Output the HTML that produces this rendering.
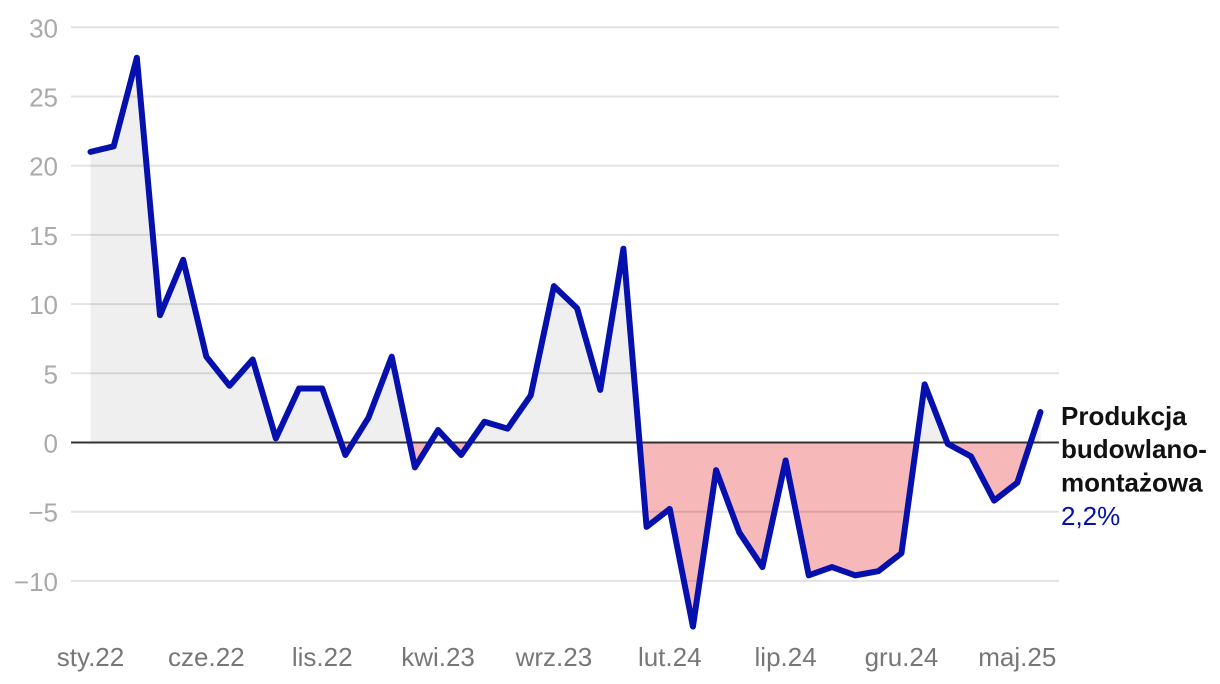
<!DOCTYPE html>
<html><head><meta charset="utf-8"><style>
html,body{margin:0;padding:0;background:#fff;}
svg{display:block;}
</style></head><body>
<svg width="1220" height="684" viewBox="0 0 1220 684" xmlns="http://www.w3.org/2000/svg">
<defs>
<clipPath id="above"><rect x="0" y="0" width="1220" height="442.5"/></clipPath>
<clipPath id="below"><rect x="0" y="442.5" width="1220" height="242"/></clipPath>
</defs>
<g id="area">
<path clip-path="url(#above)" fill="#efefef" d="M90.5 442.5 L90.5 151.86 L113.67 146.32 L136.84 57.75 L160.01 315.17 L183.18 259.81 L206.35 356.69 L229.52 385.76 L252.69 359.46 L275.86 438.35 L299.03 388.52 L322.2 388.52 L345.37 454.96 L368.54 417.59 L391.71 356.69 L414.88 467.41 L438.05 430.04 L461.22 454.96 L484.39 421.74 L507.56 428.66 L530.73 395.44 L553.9 286.11 L577.07 308.25 L600.24 389.91 L623.41 248.74 L646.58 526.92 L669.75 508.93 L692.92 626.57 L716.09 470.18 L739.26 532.46 L762.43 567.06 L785.6 460.49 L808.77 575.36 L831.94 567.06 L855.11 575.36 L878.28 571.21 L901.45 553.22 L924.62 384.37 L947.79 443.88 L970.96 456.34 L994.13 500.63 L1017.3 482.64 L1040.47 412.05 L1040.47 442.5 Z"/>
<path clip-path="url(#below)" fill="#f7b8ba" d="M90.5 442.5 L90.5 151.86 L113.67 146.32 L136.84 57.75 L160.01 315.17 L183.18 259.81 L206.35 356.69 L229.52 385.76 L252.69 359.46 L275.86 438.35 L299.03 388.52 L322.2 388.52 L345.37 454.96 L368.54 417.59 L391.71 356.69 L414.88 467.41 L438.05 430.04 L461.22 454.96 L484.39 421.74 L507.56 428.66 L530.73 395.44 L553.9 286.11 L577.07 308.25 L600.24 389.91 L623.41 248.74 L646.58 526.92 L669.75 508.93 L692.92 626.57 L716.09 470.18 L739.26 532.46 L762.43 567.06 L785.6 460.49 L808.77 575.36 L831.94 567.06 L855.11 575.36 L878.28 571.21 L901.45 553.22 L924.62 384.37 L947.79 443.88 L970.96 456.34 L994.13 500.63 L1017.3 482.64 L1040.47 412.05 L1040.47 442.5 Z"/>
</g>
<g stroke="rgba(0,0,0,0.11)" stroke-width="2">
<line x1="71" x2="1059" y1="27.3" y2="27.3"/>
<line x1="71" x2="1059" y1="96.5" y2="96.5"/>
<line x1="71" x2="1059" y1="165.7" y2="165.7"/>
<line x1="71" x2="1059" y1="234.9" y2="234.9"/>
<line x1="71" x2="1059" y1="304.1" y2="304.1"/>
<line x1="71" x2="1059" y1="373.3" y2="373.3"/>
<line x1="71" x2="1059" y1="511.7" y2="511.7"/>
<line x1="71" x2="1059" y1="580.9" y2="580.9"/>
</g>
<line x1="71" x2="1059" y1="442.5" y2="442.5" stroke="#333" stroke-width="2"/>
<g font-family="'Liberation Sans', sans-serif" font-size="26" fill="#aaaaaa" text-anchor="end">
<text x="58" y="37.3">30</text>
<text x="58" y="106.5">25</text>
<text x="58" y="175.7">20</text>
<text x="58" y="244.9">15</text>
<text x="58" y="314.1">10</text>
<text x="58" y="383.3">5</text>
<text x="58" y="452.5">0</text>
<text x="58" y="521.7">−5</text>
<text x="58" y="590.9">−10</text>
</g>
<g font-family="'Liberation Sans', sans-serif" font-size="26" fill="#777777" text-anchor="middle">
<text x="90.5" y="666">sty.22</text>
<text x="206.35" y="666">cze.22</text>
<text x="322.2" y="666">lis.22</text>
<text x="438.05" y="666">kwi.23</text>
<text x="553.9" y="666">wrz.23</text>
<text x="669.75" y="666">lut.24</text>
<text x="785.6" y="666">lip.24</text>
<text x="901.45" y="666">gru.24</text>
<text x="1017.3" y="666">maj.25</text>
</g>
<path fill="none" stroke="#0510ad" stroke-width="6" stroke-linejoin="round" stroke-linecap="round" d="M90.5 151.86 L113.67 146.32 L136.84 57.75 L160.01 315.17 L183.18 259.81 L206.35 356.69 L229.52 385.76 L252.69 359.46 L275.86 438.35 L299.03 388.52 L322.2 388.52 L345.37 454.96 L368.54 417.59 L391.71 356.69 L414.88 467.41 L438.05 430.04 L461.22 454.96 L484.39 421.74 L507.56 428.66 L530.73 395.44 L553.9 286.11 L577.07 308.25 L600.24 389.91 L623.41 248.74 L646.58 526.92 L669.75 508.93 L692.92 626.57 L716.09 470.18 L739.26 532.46 L762.43 567.06 L785.6 460.49 L808.77 575.36 L831.94 567.06 L855.11 575.36 L878.28 571.21 L901.45 553.22 L924.62 384.37 L947.79 443.88 L970.96 456.34 L994.13 500.63 L1017.3 482.64 L1040.47 412.05"/>
<g font-family="'Liberation Sans', sans-serif" font-size="26">
<text x="1061" y="425" font-weight="bold" fill="#111">Produkcja</text>
<text x="1061" y="458" font-weight="bold" fill="#111">budowlano-</text>
<text x="1061" y="491.5" font-weight="bold" fill="#111">montażowa</text>
<text x="1061" y="525" fill="#0510ad">2,2%</text>
</g>
</svg>
</body></html>
